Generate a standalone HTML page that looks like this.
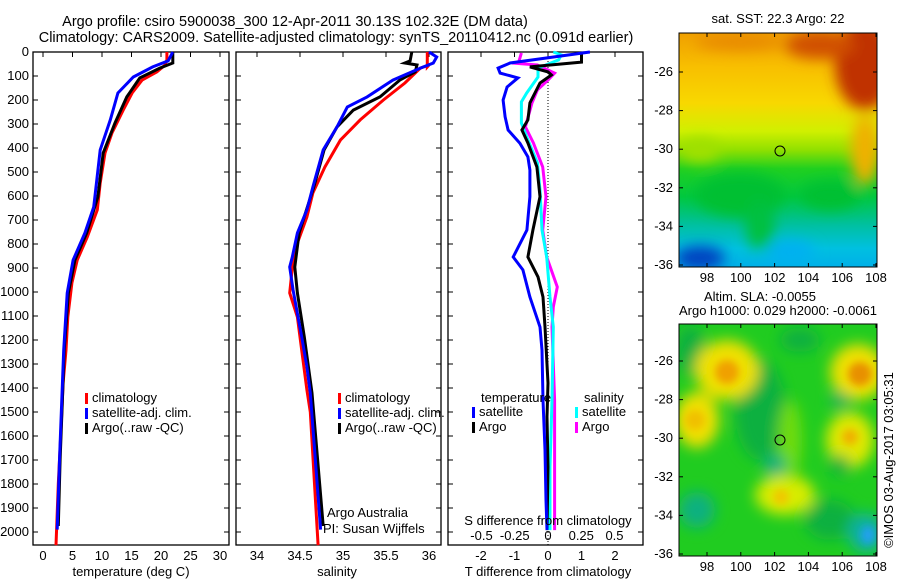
<!DOCTYPE html>
<html><head><meta charset="utf-8"><style>
body{margin:0;background:#fff;}
svg{display:block;font-family:"Liberation Sans",sans-serif;}
</style></head><body>
<svg id="c" width="900" height="580" viewBox="0 0 900 580">
<defs>
<filter id="blur" x="-50%" y="-50%" width="200%" height="200%"><feGaussianBlur stdDeviation="7"/></filter>
<filter id="blur2" x="-50%" y="-50%" width="200%" height="200%"><feGaussianBlur stdDeviation="4"/></filter>
<clipPath id="m1"><rect x="679" y="33" width="198" height="234"/></clipPath>
<clipPath id="m2"><rect x="679" y="324" width="198" height="232"/></clipPath>
<linearGradient id="sst" x1="0" y1="0" x2="0" y2="1">
<stop offset="0" stop-color="#f0a000"/><stop offset="0.15" stop-color="#f8c000"/>
<stop offset="0.3" stop-color="#f8d800"/><stop offset="0.42" stop-color="#d0f000"/>
<stop offset="0.5" stop-color="#90e000"/><stop offset="0.58" stop-color="#20d020"/>
<stop offset="0.7" stop-color="#00c840"/><stop offset="0.82" stop-color="#00c0a0"/>
<stop offset="0.92" stop-color="#00c0e0"/><stop offset="1" stop-color="#00b0e8"/>
</linearGradient>
</defs>
<text x="295" y="26" font-size="14.5" text-anchor="middle">Argo profile: csiro 5900038_300 12-Apr-2011 30.13S 102.32E (DM data)</text>
<text x="336" y="42" font-size="14.5" text-anchor="middle">Climatology: CARS2009. Satellite-adjusted climatology: synTS_20110412.nc (0.091d earlier)</text>
<g id="panels"></g>
<g id="maps">
<text x="778" y="23" font-size="13" text-anchor="middle">sat. SST: 22.3 Argo: 22</text>
<g clip-path="url(#m1)">
<rect x="679" y="33" width="198" height="234" fill="url(#sst)"/>
<g filter="url(#blur)">
<ellipse cx="865" cy="65" rx="30" ry="45" fill="#c03000"/>
<ellipse cx="820" cy="45" rx="35" ry="14" fill="#d05000"/>
<ellipse cx="740" cy="42" rx="45" ry="8" fill="#e88800"/>
<ellipse cx="865" cy="150" rx="14" ry="35" fill="#f0b000"/>
<ellipse cx="700" cy="150" rx="20" ry="12" fill="#a0e000"/>
<ellipse cx="740" cy="195" rx="45" ry="22" fill="#00c030"/>
<ellipse cx="830" cy="195" rx="30" ry="15" fill="#00c030"/>
<ellipse cx="700" cy="258" rx="25" ry="12" fill="#0040c0"/>
<ellipse cx="790" cy="252" rx="25" ry="12" fill="#00b0f0"/>
<ellipse cx="760" cy="225" rx="15" ry="25" fill="#00c040"/>
</g>
</g>
<rect x="679" y="33" width="198" height="234" fill="none" stroke="#000"/>
<circle cx="780" cy="151" r="5" fill="none" stroke="#000"/>
<text x="760" y="301" font-size="13" text-anchor="middle">Altim. SLA: -0.0055</text>
<text x="778" y="315" font-size="13" text-anchor="middle">Argo h1000: 0.029 h2000: -0.0061</text>
<g clip-path="url(#m2)">
<rect x="679" y="324" width="198" height="232" fill="#20cc20"/>
<g filter="url(#blur)">
<ellipse cx="760" cy="410" rx="25" ry="50" fill="#10b040"/>
<ellipse cx="690" cy="350" rx="15" ry="25" fill="#10b040"/>
<ellipse cx="800" cy="340" rx="20" ry="12" fill="#10b040"/>
<ellipse cx="830" cy="520" rx="25" ry="20" fill="#10b040"/>
<ellipse cx="727" cy="370" rx="32" ry="30" fill="#f0e000"/>
<ellipse cx="858" cy="372" rx="28" ry="28" fill="#f0e000"/>
<ellipse cx="697" cy="420" rx="22" ry="28" fill="#f0e000"/>
<ellipse cx="850" cy="440" rx="24" ry="28" fill="#e0e800"/>
<ellipse cx="785" cy="495" rx="30" ry="20" fill="#d8ec00"/>
<ellipse cx="790" cy="440" rx="12" ry="40" fill="#70dc10"/>
<ellipse cx="697" cy="510" rx="18" ry="18" fill="#10b080"/>
<ellipse cx="775" cy="465" rx="11" ry="11" fill="#10b080"/>
<ellipse cx="866" cy="533" rx="18" ry="20" fill="#10b0a0"/>
<ellipse cx="840" cy="465" rx="10" ry="10" fill="#10b040"/>
<ellipse cx="840" cy="400" rx="10" ry="8" fill="#10b060"/>
</g>
<g filter="url(#blur2)">
<ellipse cx="727" cy="372" rx="12" ry="12" fill="#f0a000"/>
<ellipse cx="860" cy="374" rx="12" ry="12" fill="#e89000"/>
<ellipse cx="850" cy="437" rx="8" ry="8" fill="#f0b000"/>
<ellipse cx="695" cy="420" rx="10" ry="10" fill="#f0c000"/>
<ellipse cx="781" cy="497" rx="8" ry="8" fill="#f0c800"/>
<ellipse cx="868" cy="535" rx="7" ry="9" fill="#20a0f0"/>
</g>
</g>
<rect x="679" y="324" width="198" height="232" fill="none" stroke="#000"/>
<circle cx="780" cy="440" r="5" fill="none" stroke="#000"/>
<text transform="translate(893,460) rotate(-90)" font-size="13" text-anchor="middle">©IMOS 03-Aug-2017 03:05:31</text>
</g>
</svg>
<script>
// ---- data ----
const depthTicks=[0,100,200,300,400,500,600,700,800,900,1000,1100,1200,1300,1400,1500,1600,1700,1800,1900,2000];
const tempTicks=[0,5,10,15,20,25,30];
const salTicks=[34,34.5,35,35.5,36];
const tdiffTicks=[-2,-1,0,1,2];
const sdiffTicks=[-0.5,-0.25,0,0.25,0.5];
const sdiffTickLabels=["-0.5","-0.25","0","0.25","0.5"];

const tClimDepth=[0,33,54,83,117,171,242,337,421,546,658,771,867,962,1104,1242,1379,1600,1800,2055];
const tClim=[21.0,21.0,20.7,19.3,16.8,15.1,13.6,11.7,10.5,9.7,9.2,7.5,5.8,4.9,4.2,3.9,3.4,3.0,2.6,2.2];
const tSatDepth=[0,37,62,104,171,283,408,603,646,754,867,1004,1242,1437,1700,1990];
const tSat=[22.0,21.2,18.6,15.3,12.7,11.4,9.7,8.8,8.6,7.1,5.1,4.1,3.5,3.2,2.8,2.4];
const tArgoDepth=[0,46,67,108,187,296,421,603,754,867,1004,1242,1437,1700,1975];
const tArgo=[22.0,22.0,19.8,16.4,14.2,12.2,10.2,9.3,7.4,5.4,4.3,3.6,3.3,2.9,2.6];

const sClimDepth=[0,62,54,67,129,200,283,367,479,587,687,796,867,1004,1104,1271,1408,1500,2055];
const sClim=[35.98,35.98,36.0,35.9,35.72,35.47,35.2,34.97,34.79,34.65,34.58,34.47,34.42,34.38,34.47,34.53,34.58,34.62,34.71];
const sSatDepth=[0,21,46,67,117,187,229,312,408,562,658,754,854,896,992,1187,1312,1421,1990];
const sSat=[36.0,36.09,36.05,35.9,35.58,35.28,35.05,34.93,34.77,34.65,34.58,34.47,34.41,34.38,34.42,34.52,34.58,34.62,34.74];
const sArgoDepth=[0,37,46,54,83,117,187,242,312,408,562,754,896,1004,1187,1421,1975];
const sArgo=[35.8,35.78,35.72,35.86,35.84,35.66,35.43,35.12,34.93,34.78,34.66,34.49,34.44,34.47,34.55,34.64,34.77];

const dTSatDepth=[0,46,67,88,108,146,200,270,325,380,437,492,603,742,854,908,1021,1146,1242,1450,1658,1867,1992];
const dTSat=[1.25,-1.13,-1.49,-1.43,-0.9,-1.22,-1.34,-1.28,-1.19,-0.84,-0.6,-0.54,-0.54,-0.63,-1.04,-0.75,-0.54,-0.24,-0.18,-0.15,-0.09,-0.06,-0.03];
const dTArgoDepth=[0,42,62,83,96,129,212,283,325,379,479,603,742,854,937,1021,1146,1379,1520,1729,1992];
const dTArgo=[1.0,1.0,-0.54,0,0.1,-0.24,-0.54,-0.6,-0.78,-0.6,-0.33,-0.24,-0.45,-0.6,-0.3,-0.15,-0.09,0,-0.03,0,-0.03];
const dSSatDepth=[0,12,33,67,104,171,208,296,354,462,575,742,854,1021,1146,1450,1729,1992];
const dSSat=[0.04,0.1,0.08,-0.075,-0.075,-0.16,-0.2,-0.2,-0.16,-0.08,-0.06,-0.045,-0.01,0.015,0.04,0.03,0.015,0.015];
const dSArgoDepth=[4,42,46,54,88,117,158,212,312,379,479,603,742,854,979,1062,1146,1450,1729,1992];
const dSArgo=[-0.2,-0.22,-0.27,-0.08,0.05,0,-0.08,-0.12,-0.17,-0.11,-0.04,-0.015,-0.04,-0.01,0.07,0.04,0.03,0.05,0.05,0.05];

const mapLatTicks=[-26,-28,-30,-32,-34,-36];
const mapLonTicks=[98,100,102,104,106,108];

// ---- axes ----
const NS="http://www.w3.org/2000/svg";
const svg=document.getElementById('panels');
const FS=13;
const yD=d=>52+d*0.24;
const xT=t=>43+t*5.9;
const xS=s=>257+(s-34)*86;
const xDT=t=>548+t*33.5;
const xDS=s=>548+s*133;
function mk(tag,attrs,parent){const e=document.createElementNS(NS,tag);for(const k in attrs)e.setAttribute(k,attrs[k]);(parent||svg).appendChild(e);return e;}
function txt(x,y,s,anchor,size,parent){const e=mk('text',{x:x,y:y,'font-size':size||FS,'text-anchor':anchor||'middle'},parent);e.textContent=s;return e;}
function frame(x0,x1,name){const r=mk('rect',{x:x0,y:52,width:x1-x0,height:493,fill:'none',stroke:'#000','stroke-width':1.3});


depthTicks.forEach(d=>{mk('line',{x1:x0,x2:x0+5,y1:yD(d),y2:yD(d),stroke:'#000'});mk('line',{x1:x1-5,x2:x1,y1:yD(d),y2:yD(d),stroke:'#000'});});}
function line(xs,ds,xf,color,name,w){const pts=xs.map((v,i)=>xf(v).toFixed(1)+','+yD(ds[i]).toFixed(1)).join(' ');
const p=mk('polyline',{points:pts,fill:'none',stroke:color,'stroke-width':w||3,'stroke-linejoin':'miter'});

}
function legItem(x,y,color,label,name){const g=mk('g',{});


mk('rect',{x:x,y:y-9,width:3,height:11,fill:color},g);txt(x+7,y,label,'start',FS,g);}

// panel 1
frame(33,229,'temperature-panel');
depthTicks.forEach(d=>{const t=txt(29,yD(d)+4,String(d),'end');});
tempTicks.forEach(t=>{mk('line',{x1:xT(t),x2:xT(t),y1:52,y2:57,stroke:'#000'});const e=txt(xT(t),560,String(t));});
line(tClim,tClimDepth,xT,'#f00','temp-climatology-line');
line(tArgo,tArgoDepth,xT,'#000','temp-argo-line');
line(tSat,tSatDepth,xT,'#00f','temp-satellite-line');
{const e=txt(131,576,'temperature (deg C)');}
legItem(85,402,'#f00','climatology','legend-climatology');
legItem(85,417,'#00f','satellite-adj. clim.','legend-satellite');
legItem(85,432,'#000','Argo(..raw -QC)','legend-argo');

// panel 2
frame(236,441,'salinity-panel');
salTicks.forEach(s=>{mk('line',{x1:xS(s),x2:xS(s),y1:52,y2:57,stroke:'#000'});const e=txt(xS(s),560,String(s));});
line(sClim,sClimDepth,xS,'#f00','salinity-climatology-line');
line(sArgo,sArgoDepth,xS,'#000','salinity-argo-line');
line(sSat,sSatDepth,xS,'#00f','salinity-satellite-line');
{const e=txt(337,576,'salinity');}
legItem(338,402,'#f00','climatology','legend-climatology-2');
legItem(338,417,'#00f','satellite-adj. clim.','legend-satellite-2');
legItem(338,432,'#000','Argo(..raw -QC)','legend-argo-2');
{const e=txt(327,517,'Argo Australia','start');}
{const e=txt(323,533,'PI: Susan Wijffels','start');}

// panel 3
frame(448,643,'difference-panel');
tdiffTicks.forEach(t=>{mk('line',{x1:xDT(t),x2:xDT(t),y1:52,y2:57,stroke:'#000'});const e=txt(xDT(t),560,String(t));});
mk('line',{x1:548,x2:548,y1:52,y2:545,stroke:'#000','stroke-dasharray':'1,2'});
line(dSArgo,dSArgoDepth,xDS,'#f0f','sdiff-argo-line');
line(dSSat,dSSatDepth,xDS,'#0ff','sdiff-satellite-line');
line(dTArgo,dTArgoDepth,xDT,'#000','tdiff-argo-line');
line(dTSat,dTSatDepth,xDT,'#00f','tdiff-satellite-line');
sdiffTicks.forEach((s,i)=>{const e=txt(xDS(s),540,sdiffTickLabels[i]);});
{const e=txt(548,525,'S difference from climatology');}
{const e=txt(548,576,'T difference from climatology');}
{const e=txt(481,402,'temperature','start');}
{const e=txt(584,402,'salinity','start');}
legItem(472,416,'#00f','satellite','legend-tdiff-satellite');
legItem(472,431,'#000','Argo','legend-tdiff-argo');
legItem(575,416,'#0ff','satellite','legend-sdiff-satellite');
legItem(575,431,'#f0f','Argo','legend-sdiff-argo');

// map ticks
const mg=document.getElementById('maps');
const lonX=l=>707+(l-98)*16.9;
[[72,33,267,282],[361,324,556,571]].forEach(([y26,top,bot,ly])=>{
 mapLatTicks.forEach(l=>{const y=y26+(-26-l)*19.3;mk('line',{x1:679,x2:683,y1:y,y2:y,stroke:'#000'},mg);mk('line',{x1:873,x2:877,y1:y,y2:y,stroke:'#000'},mg);
  const e=txt(673,y+4,String(l),'end',FS,mg);});
 mapLonTicks.forEach(l=>{const x=lonX(l);mk('line',{x1:x,x2:x,y1:bot-4,y2:bot,stroke:'#000'},mg);mk('line',{x1:x,x2:x,y1:top,y2:top+4,stroke:'#000'},mg);
  const e=txt(x,ly,String(l),'middle',FS,mg);});
});
</script>
</body></html>
